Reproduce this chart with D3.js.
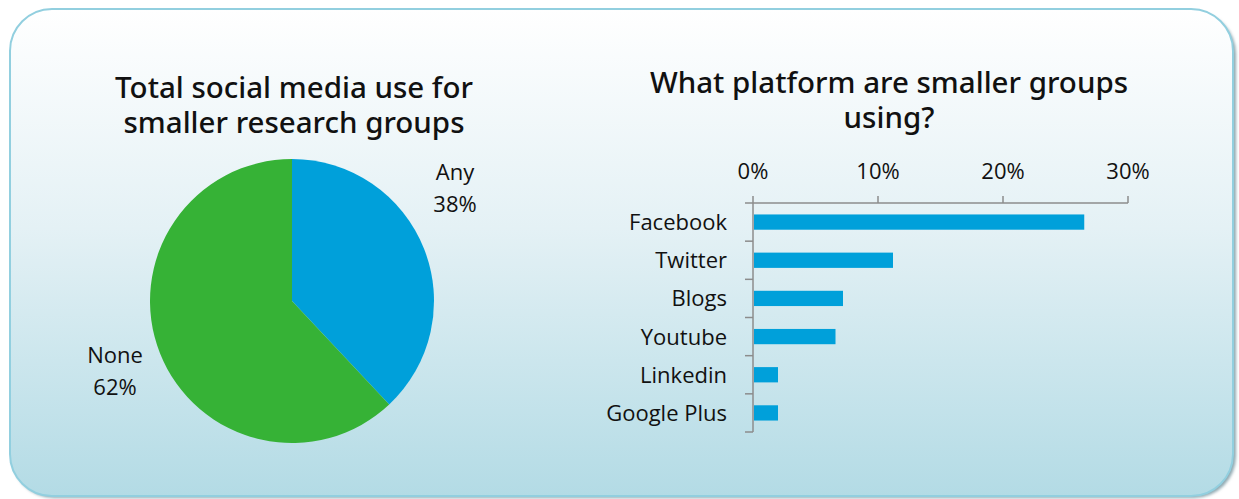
<!DOCTYPE html>
<html>
<head>
<meta charset="utf-8">
<script src="https://cdn.jsdelivr.net/npm/d3@7"></script>
<style>
  body { margin: 0; background: #ffffff; }
  svg { display: block; }
  .lab { font-family: "Open Sans", sans-serif; font-size: 22px; fill: #111; }
  .title { font-family: "Noto Sans", sans-serif; font-weight: 500; font-size: 29.5px; fill: #111; }
</style>
</head>
<body>
<script>
// data for the pie
var pieLabels = ["Any", "None"];
var pieValues = [38, 62];
var pieColours = ["#00a0da", "#36b236"];

// data for the bar chart
var platforms = ["Facebook", "Twitter", "Blogs", "Youtube", "Linkedin", "Google Plus"];
var platformShare = [26.5, 11.2, 7.2, 6.6, 2.0, 2.0];
var xTicks = [0, 10, 20, 30];

var width = 1239;
var height = 499;

var svg = d3.select("body")
            .append("svg")
            .attr("width", width)
            .attr("height", height);

// background gradient + shadow
var defs = svg.append("defs");
var grad = defs.append("linearGradient")
               .attr("id", "bgGrad")
               .attr("x1", 0).attr("y1", 0)
               .attr("x2", 0).attr("y2", 1);
grad.append("stop").attr("offset", "0%").attr("stop-color", "#ffffff");
grad.append("stop").attr("offset", "45%").attr("stop-color", "#e4f1f5");
grad.append("stop").attr("offset", "100%").attr("stop-color", "#b3dbe5");

var blur = defs.append("filter").attr("id", "shadow");
blur.append("feGaussianBlur").attr("stdDeviation", 1.5);

svg.append("rect")
   .attr("x", 12).attr("y", 12)
   .attr("width", 1224).attr("height", 486)
   .attr("rx", 42)
   .attr("fill", "#8fa9b1")
   .attr("filter", "url(#shadow)");

svg.append("rect")
   .attr("x", 10).attr("y", 9)
   .attr("width", 1223).attr("height", 487)
   .attr("rx", 42)
   .attr("fill", "url(#bgGrad)")
   .attr("stroke", "#92cfdf")
   .attr("stroke-width", 2);

// ---------- pie chart ----------
var pieCx = 292, pieCy = 301, pieR = 142;

var pie = d3.pie().sort(null);
var arc = d3.arc().innerRadius(0).outerRadius(pieR);

var pieG = svg.append("g")
              .attr("transform", "translate(" + pieCx + "," + pieCy + ")");

pieG.selectAll("path")
    .data(pie(pieValues))
    .enter()
    .append("path")
    .attr("d", arc)
    .attr("fill", function(d, i){ return pieColours[i]; });

// labels sit outside the pie, two lines each
var labelPos = [[163, -121], [-177, 62]];
pieG.selectAll(".pieLab")
    .data(pie(pieValues))
    .enter()
    .append("text")
    .attr("class", "lab")
    .attr("text-anchor", "middle")
    .attr("y", function(d, i){ return labelPos[i][1]; })
    .each(function(d, i){
        var t = d3.select(this);
        t.append("tspan").attr("x", labelPos[i][0]).attr("dy", 0).text(pieLabels[i]);
        t.append("tspan").attr("x", labelPos[i][0]).attr("dy", 32).text(pieValues[i] + "%");
    });

// titles, two lines each
var addTitle = function(cx, y, lines){
    var t = svg.append("text")
               .attr("class", "title")
               .attr("text-anchor", "middle")
               .attr("y", y);
    lines.forEach(function(line, i){
        t.append("tspan")
         .attr("x", cx)
         .attr("dy", i == 0 ? 0 : 34.5)
         .text(line);
    });
};
addTitle(294, 98, ["Total social media use for", "smaller research groups"]);
addTitle(889, 93, ["What platform are smaller groups", "using?"]);

// ---------- bar chart ----------
var x0 = 753, x1 = 1128;
var yTop = 203, yBot = 432;

var xScale = d3.scaleLinear().domain([0, 30]).range([x0, x1]);
var yScale = d3.scaleBand()
               .domain(platforms)
               .range([yTop, yBot])
               .paddingInner(0.6)
               .paddingOuter(0.3);

var axisCol = "#8c8c8c";

// top axis
var xAxisG = svg.append("g");
xAxisG.append("line")
      .attr("x1", x0 - 8).attr("x2", x1)
      .attr("y1", yTop).attr("y2", yTop)
      .attr("stroke", axisCol).attr("stroke-width", 1.5);
xAxisG.selectAll(".xt")
      .data(xTicks)
      .enter()
      .append("line")
      .attr("x1", function(d){ return xScale(d); })
      .attr("x2", function(d){ return xScale(d); })
      .attr("y1", yTop - 7).attr("y2", yTop)
      .attr("stroke", axisCol).attr("stroke-width", 1.5);
xAxisG.selectAll(".xl")
      .data(xTicks)
      .enter()
      .append("text")
      .attr("class", "lab")
      .attr("text-anchor", "middle")
      .attr("x", function(d){ return xScale(d); })
      .attr("y", 179)
      .text(function(d){ return d + "%"; });

// left axis with ticks between the categories
var bandStep = (yBot - yTop) / platforms.length;
var yTicks = d3.range(platforms.length + 1).map(function(i){ return yTop + i * bandStep; });
var yAxisG = svg.append("g");
yAxisG.append("line")
      .attr("x1", x0).attr("x2", x0)
      .attr("y1", yTop).attr("y2", yBot)
      .attr("stroke", axisCol).attr("stroke-width", 1.5);
yAxisG.selectAll(".yt")
      .data(yTicks.slice(1))
      .enter()
      .append("line")
      .attr("x1", x0 - 8).attr("x2", x0)
      .attr("y1", function(d){ return d; })
      .attr("y2", function(d){ return d; })
      .attr("stroke", axisCol).attr("stroke-width", 1.5);

// bars
svg.selectAll(".bar")
   .data(platforms)
   .enter()
   .append("rect")
   .attr("x", xScale(0) + 1)
   .attr("y", function(d){ return yScale(d); })
   .attr("width", function(d, i){ return xScale(platformShare[i]) - xScale(0) - 1; })
   .attr("height", yScale.bandwidth())
   .attr("fill", "#00a0da");

// category labels
svg.selectAll(".catLab")
   .data(platforms)
   .enter()
   .append("text")
   .attr("class", "lab")
   .attr("text-anchor", "end")
   .attr("x", 727)
   .attr("y", function(d){ return yScale(d) + yScale.bandwidth() / 2 + 8; })
   .text(function(d){ return d; });
</script>
</body>
</html>
